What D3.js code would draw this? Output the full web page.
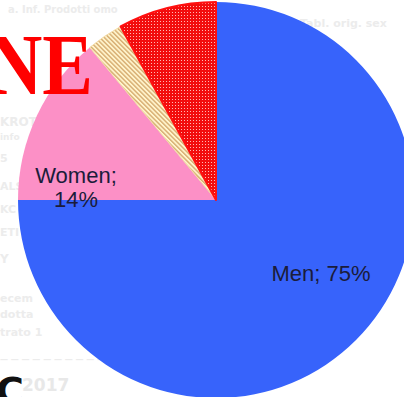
<!DOCTYPE html>
<html>
<head>
<meta charset="utf-8">
<script src="https://cdn.jsdelivr.net/npm/d3@7"></script>
<style>
  html, body { margin: 0; padding: 0; background: #fff; }
  svg { display: block; }
</style>
</head>
<body>
<svg id="chart" width="404" height="397"></svg>
<script>
// Share of each group, clockwise from 12 o'clock
const categories = ["Men", "Women", "Mixed", "Other"];
const shares = [75, 14, 3, 8];
const labelled = [true, true, false, false];

const cx = 216, cy = 200, radius = 198;

const svg = d3.select("#chart");
const defs = svg.append("defs");

// Beige diagonal hatching on pale yellow
const hatch = defs.append("pattern")
  .attr("id", "hatch").attr("patternUnits", "userSpaceOnUse")
  .attr("width", 3.2).attr("height", 3.2)
  .attr("patternTransform", "rotate(-45)");
hatch.append("rect").attr("width", 3.2).attr("height", 3.2).attr("fill", "#fff4cc");
hatch.append("rect").attr("width", 1.4).attr("height", 3.2).attr("fill", "#d6ac70");

// Red with a fine grid of light dots
const dots = defs.append("pattern")
  .attr("id", "dots").attr("patternUnits", "userSpaceOnUse")
  .attr("width", 3).attr("height", 3);
dots.append("rect").attr("width", 3).attr("height", 3).attr("fill", "#f20d0d");
dots.append("rect").attr("x", 1).attr("y", 1).attr("width", 1).attr("height", 1).attr("fill", "#ffb9b3");

const fills = d3.scaleOrdinal()
  .domain(categories)
  .range(["#3763fb", "#fc90c6", "url(#hatch)", "url(#dots)"]);
const strokes = d3.scaleOrdinal()
  .domain(categories)
  .range(["none", "none", "#f3dca8", "#ff1010"]);

// Faint print behind the chart
const faint = svg.append("g").attr("fill", "#ececec")
  .attr("font-family", "DejaVu Sans, sans-serif").attr("font-weight", "bold");
[
  [8, 13, 10, "a. Inf. Prodotti omo"],
  [300, 27, 11, "Tabl. orig. sex"],
  [0, 126, 12, "KROT"],
  [0, 140, 9, "info"],
  [0, 162, 11, "5"],
  [0, 190, 11, "ALS"],
  [0, 213, 11, "KC"],
  [0, 236, 11, "ETI"],
  [0, 263, 12, "Y"],
  [0, 302, 11, "ecem"],
  [0, 318, 11, "dotta"],
  [0, 336, 11, "trato 1"],
  [0, 362, 8, "— — — — — — — — — — — —"]
].forEach(([x, y, s, t]) => faint.append("text")
  .attr("x", x).attr("y", y).attr("font-size", s).text(t));

const pie = d3.pie().sort(null).value(d => d.value);
const arcs = pie(categories.map((c, i) => ({ name: c, value: shares[i], label: labelled[i] })));
const arc = d3.arc().innerRadius(0).outerRadius(radius);

const g = svg.append("g").attr("transform", `translate(${cx},${cy})`);
g.selectAll("path.slice")
  .data(arcs)
  .join("path")
  .attr("class", "slice")
  .attr("d", arc)
  .attr("fill", d => fills(d.data.name))
  .attr("stroke", d => strokes(d.data.name))
  .attr("stroke-width", d => d.data.name === "Other" ? 2 : 1)
  .attr("stroke-linejoin", "round");

// Data labels "Name; NN%"
const labelPos = {
  Men: { x: 321, y: 281, lines: 1 },
  Women: { x: 76, y: 183, lines: 2 }
};
const lab = svg.append("g")
  .attr("font-family", "Liberation Sans, Arial, sans-serif")
  .attr("font-size", 22)
  .attr("fill", "#1b1c3a")
  .attr("text-anchor", "middle");
arcs.filter(d => d.data.label).forEach(d => {
  const p = labelPos[d.data.name];
  const t = lab.append("text").attr("x", p.x).attr("y", p.y);
  if (p.lines === 1) {
    t.text(`${d.data.name}; ${d.data.value}%`);
  } else {
    t.append("tspan").attr("x", p.x).attr("dy", 0).text(`${d.data.name};`);
    t.append("tspan").attr("x", p.x).attr("dy", 24).text(`${d.data.value}%`);
  }
});

// Red headline fragment on the top-left
svg.append("text")
  .attr("x", 93).attr("y", 94)
  .attr("text-anchor", "end")
  .attr("font-family", "Liberation Serif, Times New Roman, serif")
  .attr("font-weight", "bold")
  .attr("font-size", 80)
  .attr("fill", "#ff0000")
  .attr("transform", "translate(93,94) scale(0.95,1.08) translate(-93,-94)")
  .text("NE");

// Footer fragment bottom-left
svg.append("text")
  .attr("x", -4).attr("y", 404)
  .attr("font-family", "DejaVu Sans, sans-serif")
  .attr("font-weight", "bold")
  .attr("font-size", 38)
  .attr("fill", "#111")
  .text("C");
svg.append("text")
  .attr("x", 22).attr("y", 391)
  .attr("font-family", "DejaVu Sans, sans-serif")
  .attr("font-weight", "bold")
  .attr("font-size", 17)
  .attr("fill", "#e8e8e8")
  .text("2017");
</script>
</body>
</html>
